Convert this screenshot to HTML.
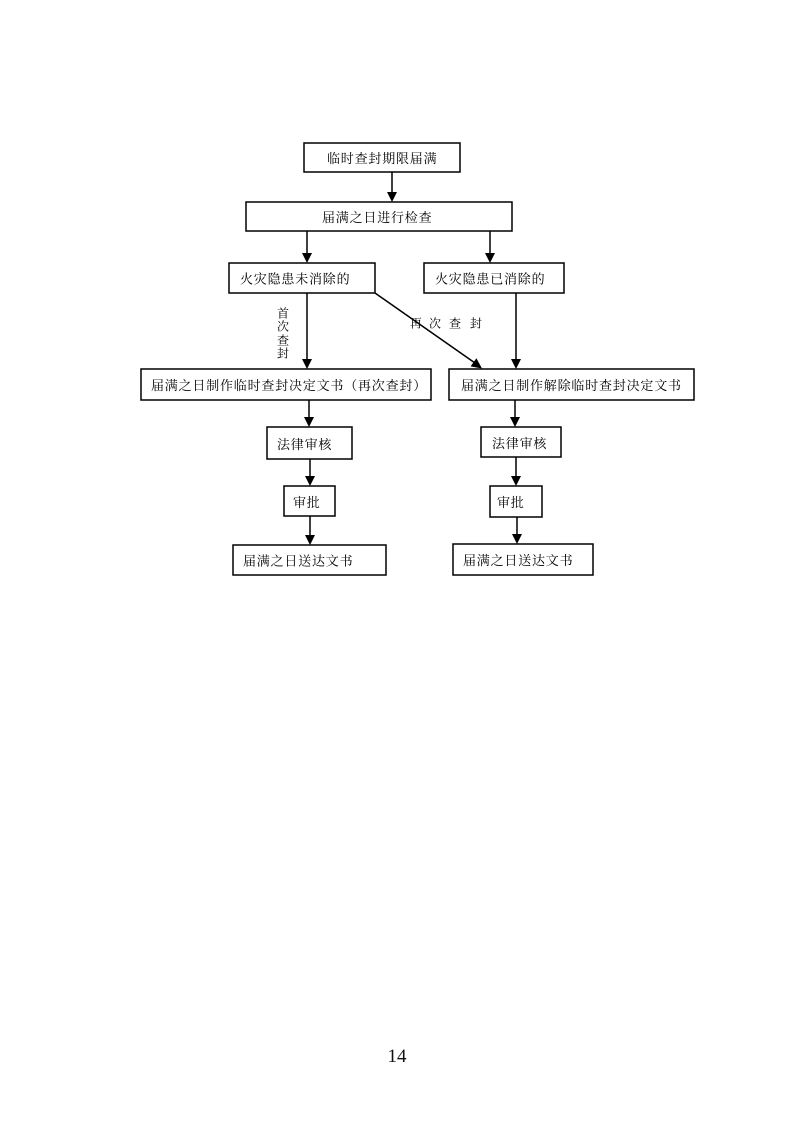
<!DOCTYPE html>
<html>
<head>
<meta charset="utf-8">
<style>
  html, body { margin: 0; padding: 0; background: #fff; }
  body { width: 793px; height: 1122px; position: relative; overflow: hidden; }
  svg { position: absolute; left: 0; top: 0; }
  .t { font-family: "Liberation Serif", "Noto Serif CJK SC", serif; font-size: 13px; letter-spacing: 0.8px; fill: #000; }
  .s { font-family: "Liberation Serif", "Noto Serif CJK SC", serif; font-size: 12px; fill: #000; }
  .b { fill: #fff; stroke: #000; stroke-width: 1.5; }
  .l { stroke: #000; stroke-width: 1.5; fill: none; }
</style>
</head>
<body>
<svg width="793" height="1122" viewBox="0 0 793 1122" xmlns="http://www.w3.org/2000/svg">
  <!-- boxes -->
  <rect class="b" x="304" y="143" width="156" height="29"/>
  <rect class="b" x="246" y="202" width="266" height="29"/>
  <rect class="b" x="229" y="263" width="146" height="30"/>
  <rect class="b" x="424" y="263" width="140" height="30"/>
  <rect class="b" x="141" y="369" width="290" height="31"/>
  <rect class="b" x="449" y="369" width="245" height="31"/>
  <rect class="b" x="267" y="427" width="85" height="32"/>
  <rect class="b" x="481" y="427" width="80" height="30"/>
  <rect class="b" x="284" y="486" width="51" height="30"/>
  <rect class="b" x="490" y="486" width="52" height="31"/>
  <rect class="b" x="233" y="545" width="153" height="30"/>
  <rect class="b" x="453" y="544" width="140" height="31"/>

  <!-- texts -->
  <text class="t" x="327" y="163">临时查封期限届满</text>
  <text class="t" x="322" y="222">届满之日进行检查</text>
  <text class="t" x="240" y="283.5">火灾隐患未消除的</text>
  <text class="t" x="435" y="283.5">火灾隐患已消除的</text>
  <text class="t" x="151" y="390">届满之日制作临时查封决定文书（再次查封）</text>
  <text class="t" x="461" y="390">届满之日制作解除临时查封决定文书</text>
  <text class="t" x="277" y="449">法律审核</text>
  <text class="t" x="492" y="448">法律审核</text>
  <text class="t" x="293" y="507">审批</text>
  <text class="t" x="497" y="507">审批</text>
  <text class="t" x="243" y="565.5">届满之日送达文书</text>
  <text class="t" x="463" y="565">届满之日送达文书</text>

  <!-- side labels -->
  <text class="s" x="283" y="317.5" text-anchor="middle">首</text>
  <text class="s" x="283" y="330.5" text-anchor="middle">次</text>
  <text class="s" x="283" y="344.5" text-anchor="middle">查</text>
  <text class="s" x="283" y="357.5" text-anchor="middle">封</text>

  <text class="s" x="416" y="327.5" text-anchor="middle">再</text>
  <text class="s" x="435" y="327.5" text-anchor="middle">次</text>
  <text class="s" x="455" y="327.5" text-anchor="middle">查</text>
  <text class="s" x="476" y="327.5" text-anchor="middle">封</text>

  <!-- connectors -->
  <line class="l" x1="392" y1="172" x2="392" y2="194"/>
  <polygon points="387,192 397,192 392,202"/>

  <line class="l" x1="307" y1="231" x2="307" y2="255"/>
  <polygon points="302,253 312,253 307,263"/>

  <line class="l" x1="490" y1="231" x2="490" y2="255"/>
  <polygon points="485,253 495,253 490,263"/>

  <line class="l" x1="307" y1="293" x2="307" y2="361"/>
  <polygon points="302,359 312,359 307,369"/>

  <line class="l" x1="375" y1="293" x2="475" y2="363"/>
  <polygon points="470.6,366.4 476.4,358.2 482,368.5"/>

  <line class="l" x1="516" y1="293" x2="516" y2="361"/>
  <polygon points="511,359 521,359 516,369"/>

  <line class="l" x1="309" y1="400" x2="309" y2="419"/>
  <polygon points="304,417 314,417 309,427"/>

  <line class="l" x1="310" y1="459" x2="310" y2="478"/>
  <polygon points="305,476 315,476 310,486"/>

  <line class="l" x1="310" y1="516" x2="310" y2="537"/>
  <polygon points="305,535 315,535 310,545"/>

  <line class="l" x1="515" y1="400" x2="515" y2="419"/>
  <polygon points="510,417 520,417 515,427"/>

  <line class="l" x1="516" y1="457" x2="516" y2="478"/>
  <polygon points="511,476 521,476 516,486"/>

  <line class="l" x1="517" y1="517" x2="517" y2="536"/>
  <polygon points="512,534 522,534 517,544"/>

  <!-- page number -->
  <text x="397" y="1062" text-anchor="middle" style="font-family:'Liberation Serif',serif;font-size:19px;fill:#111;">14</text>
</svg>
</body>
</html>
